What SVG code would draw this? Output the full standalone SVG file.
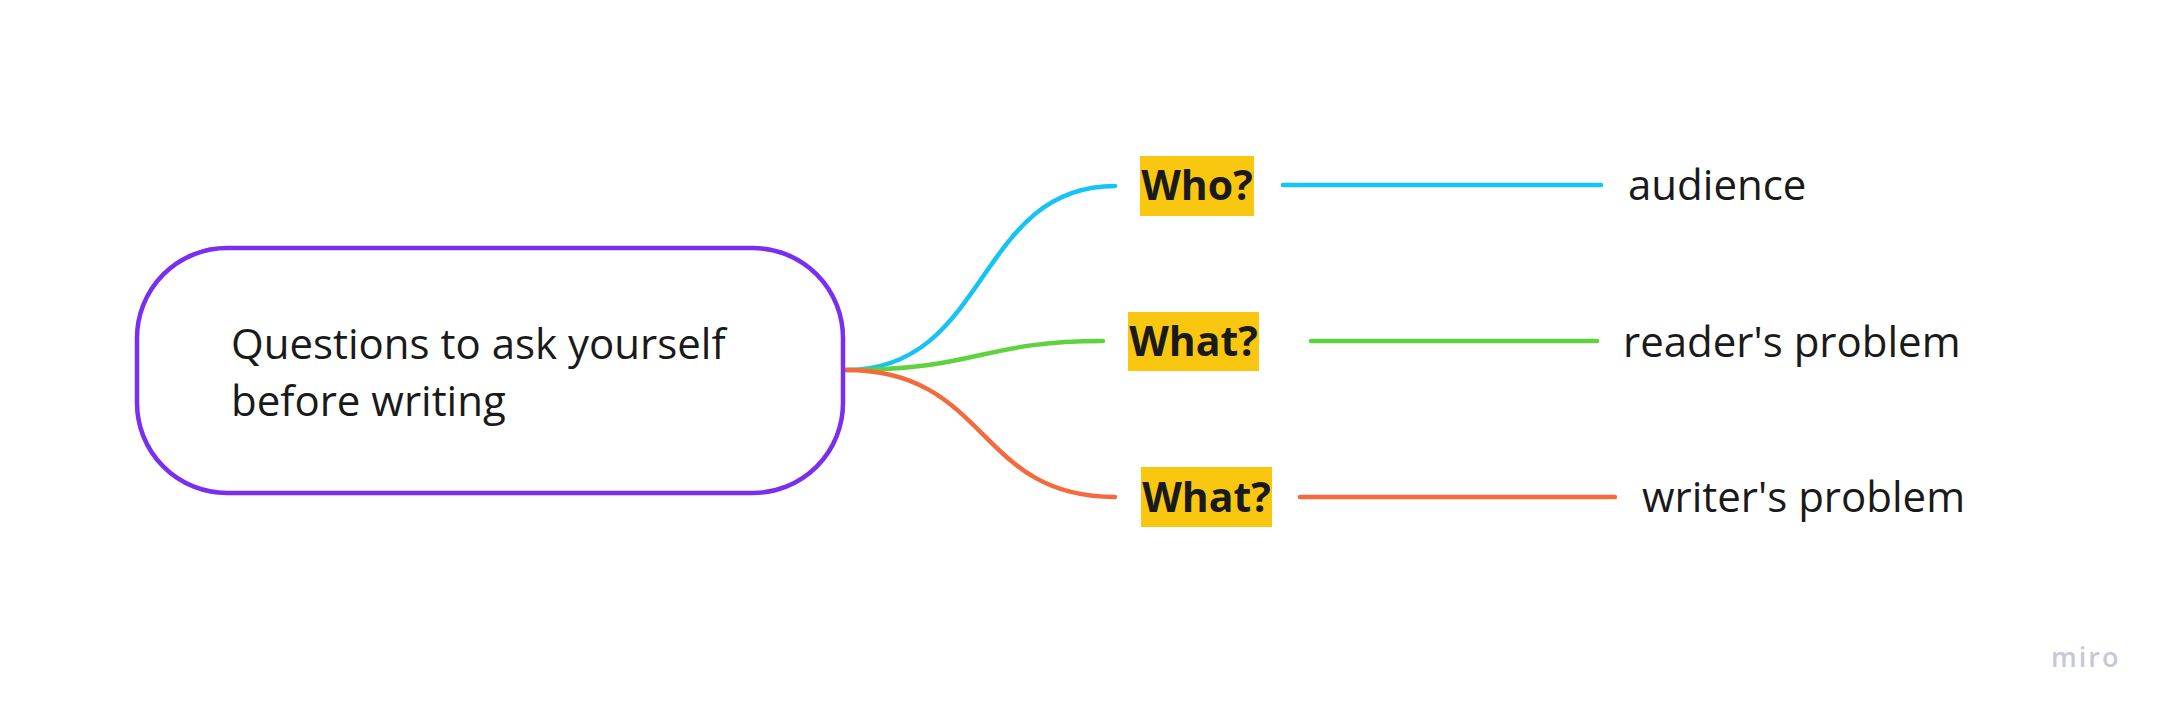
<svg xmlns="http://www.w3.org/2000/svg" width="2168" height="720" viewBox="0 0 2168 720">
<style>
.t{font-family:"Open Sans","Noto Sans","Liberation Sans",sans-serif;font-size:42px;fill:#1a1a1a}
.b{font-weight:bold;text-anchor:middle;font-size:41px}
.c{fill:none;stroke-width:4.5;stroke-linecap:round}
.hl{fill:#fac710}
</style>
<rect width="2168" height="720" fill="#ffffff"/>
<g id="connectors">
<path class="c" stroke="#15c3f5" d="M846,370 C990,370 975,186 1115,186"/>
<path class="c" stroke="#5fd33d" d="M846,370 C980,370 980,341 1103,341"/>
<path class="c" stroke="#f56a3d" d="M846,370 C990,370 975,497 1115,497"/>
<path class="c" stroke="#15c3f5" d="M1283,185 L1601,185"/>
<path class="c" stroke="#5fd33d" d="M1311,341 L1597,341"/>
<path class="c" stroke="#f56a3d" d="M1300,497 L1615,497"/>
</g>
<g id="root">
<rect x="137" y="248" width="706" height="245" rx="90" ry="90" fill="#ffffff" stroke="#7a2ef0" stroke-width="4.5"/>
<text class="t" x="231" y="359">Questions to ask yourself</text>
<text class="t" x="231" y="416">before writing</text>
</g>
<g id="who">
<rect class="hl" x="1140" y="156" width="114" height="60"/>
<text class="t b" x="1197" y="200">Who?</text>
</g>
<g id="what1">
<rect class="hl" x="1128" y="312" width="131" height="59"/>
<text class="t b" x="1193.5" y="356">What?</text>
</g>
<g id="what2">
<rect class="hl" x="1141" y="467" width="131" height="60"/>
<text class="t b" x="1206.5" y="512">What?</text>
</g>
<g id="audience">
<text class="t" x="1628" y="200">audience</text>
</g>
<g id="reader">
<text class="t" x="1623" y="357">reader's problem</text>
</g>
<g id="writer">
<text class="t" x="1642" y="512">writer's problem</text>
</g>
<text x="2051" y="667" font-family="'Open Sans','Noto Sans',sans-serif" font-size="27" font-weight="600" letter-spacing="2" fill="#c6c8d8">miro</text>
</svg>
